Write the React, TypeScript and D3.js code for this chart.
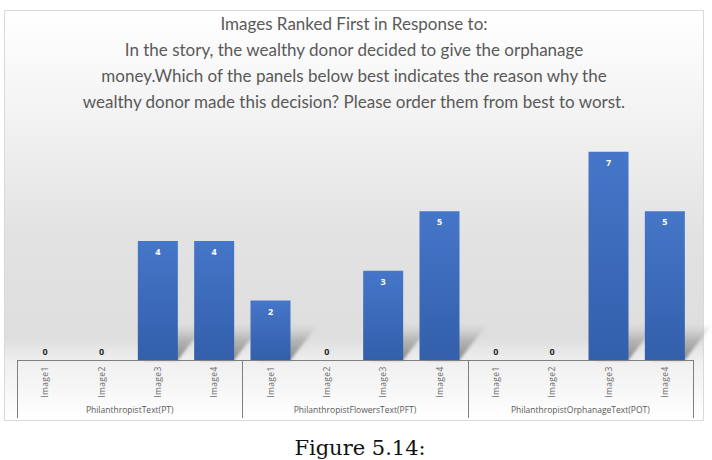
import React, { useEffect, useRef } from 'react'
import * as d3 from 'd3'

const titleLines = [
  'Images Ranked First in Response to:',
  'In the story, the wealthy donor decided to give the orphanage',
  'money.Which of the panels below best indicates the reason why the',
  'wealthy donor made this decision?  Please order them from best to worst.'
]
const groups = ['PhilanthropistText(PT)', 'PhilanthropistFlowersText(PFT)', 'PhilanthropistOrphanageText(POT)']
const images = ['Image1', 'Image2', 'Image3', 'Image4']
const ptValues = [0, 0, 4, 4]
const pftValues = [2, 0, 3, 5]
const potValues = [0, 0, 7, 5]
const caption = 'Figure 5.14:'

export default function App () {
  const ref = useRef(null)

  useEffect(() => {
    const width = 712
    const height = 460
    const margin = { left: 17, right: 19, top: 122, base: 360 }

    const rows = []
    const series = [ptValues, pftValues, potValues]
    groups.forEach((g, gi) => {
      images.forEach((img, i) => {
        rows.push({ key: g + '|' + img, group: g, image: img, value: series[gi][i] })
      })
    })

    const svg = d3.select(ref.current)
    svg.selectAll('*').remove()
    svg.attr('width', width).attr('height', height)

    const defs = svg.append('defs')
    const bg = defs.append('linearGradient').attr('id', 'bg').attr('x1', 0).attr('y1', 0).attr('x2', 0).attr('y2', 1)
    bg.append('stop').attr('offset', '0%').attr('stop-color', '#ffffff')
    bg.append('stop').attr('offset', '25%').attr('stop-color', '#f3f3f3')
    bg.append('stop').attr('offset', '55%').attr('stop-color', '#e2e2e2')
    bg.append('stop').attr('offset', '80%').attr('stop-color', '#dedede')
    bg.append('stop').attr('offset', '86%').attr('stop-color', '#f0f0f0')
    bg.append('stop').attr('offset', '100%').attr('stop-color', '#ffffff')

    const barGrad = defs.append('linearGradient').attr('id', 'bar').attr('x1', 0).attr('y1', 0).attr('x2', 0).attr('y2', 1)
    barGrad.append('stop').attr('offset', '0%').attr('stop-color', '#4676c9')
    barGrad.append('stop').attr('offset', '100%').attr('stop-color', '#335fab')

    const shade = defs.append('linearGradient').attr('id', 'shade').attr('x1', 0).attr('y1', 1).attr('x2', 0).attr('y2', 0)
    shade.append('stop').attr('offset', '0%').attr('stop-color', '#6e6e6e').attr('stop-opacity', 0.8)
    shade.append('stop').attr('offset', '55%').attr('stop-color', '#909090').attr('stop-opacity', 0.55)
    shade.append('stop').attr('offset', '100%').attr('stop-color', '#bdbdbd').attr('stop-opacity', 0.05)
    defs.append('filter').attr('id', 'blur').append('feGaussianBlur').attr('stdDeviation', 1.5)

    // chart box
    svg.append('rect')
      .attr('x', 4.5).attr('y', 10.5).attr('width', 699).attr('height', 410)
      .attr('fill', 'url(#bg)').attr('stroke', '#d9d9d9')

    svg.append('g')
      .selectAll('text')
      .data(titleLines)
      .enter()
      .append('text')
        .attr('x', 354)
        .attr('y', (d, i) => 30 + i * 26)
        .attr('text-anchor', 'middle')
        .attr('font-family', 'Lato, "Open Sans", sans-serif')
        .attr('font-size', 17)
        .attr('fill', '#595959')
        .text(d => d)

    const xScale = d3.scaleBand()
      .domain(rows.map(d => d.key))
      .range([margin.left, width - margin.right])
      .paddingInner(0.29)
      .paddingOuter(0.145)

    const yScale = d3.scaleLinear()
      .domain([0, 8])
      .range([margin.base, margin.top])

    // floor shadows
    svg.append('g')
      .attr('filter', 'url(#blur)')
      .selectAll('path')
      .data(rows.filter(d => d.value > 0))
      .enter()
      .append('path')
        .attr('d', d => {
          const x0 = xScale(d.key) + 6
          const x1 = xScale(d.key) + xScale.bandwidth()
          return `M${x0},${margin.base} L${x1},${margin.base} L${x1 + 28},${margin.base - 36} L${x0 + 28},${margin.base - 36} Z`
        })
        .attr('fill', 'url(#shade)')

    svg.append('g')
      .selectAll('rect')
      .data(rows)
      .enter()
      .append('rect')
        .attr('x', d => xScale(d.key))
        .attr('y', d => yScale(d.value))
        .attr('width', xScale.bandwidth())
        .attr('height', d => margin.base - yScale(d.value))
        .attr('fill', 'url(#bar)')

    svg.append('g')
      .selectAll('text')
      .data(rows)
      .enter()
      .append('text')
        .attr('x', d => xScale(d.key) + xScale.bandwidth() / 2)
        .attr('y', d => d.value > 0 ? yScale(d.value) + 14 : margin.base - 5)
        .attr('text-anchor', 'middle')
        .attr('font-family', '"Open Sans", sans-serif')
        .attr('font-weight', 'bold')
        .attr('font-size', 9)
        .attr('fill', d => d.value > 0 ? '#ffffff' : '#262626')
        .text(d => d.value)

    // axis
    const axis = svg.append('g').attr('stroke', '#7f7f7f').attr('stroke-width', 1)
    axis.append('line')
      .attr('x1', margin.left).attr('x2', width - margin.right)
      .attr('y1', margin.base + 0.5).attr('y2', margin.base + 0.5)
    const edges = groups.map(g => xScale(g + '|' + images[0]) - xScale.step() * 0.145)
    edges.push(width - margin.right)
    axis.selectAll('.sep')
      .data(edges)
      .enter()
      .append('line')
        .attr('x1', d => Math.round(d) + 0.5).attr('x2', d => Math.round(d) + 0.5)
        .attr('y1', margin.base).attr('y2', 418)

    svg.append('g')
      .selectAll('text')
      .data(rows)
      .enter()
      .append('text')
        .attr('transform', d => `translate(${xScale(d.key) + xScale.bandwidth() / 2 + 3}, 382) rotate(-90)`)
        .attr('text-anchor', 'middle')
        .attr('font-family', '"Open Sans", sans-serif')
        .attr('font-size', 8.5)
        .attr('letter-spacing', 0.4)
        .attr('fill', '#6a6a6a')
        .text(d => d.image)

    svg.append('g')
      .selectAll('text')
      .data(groups)
      .enter()
      .append('text')
        .attr('x', (d, i) => (edges[i] + edges[i + 1]) / 2)
        .attr('y', 413)
        .attr('text-anchor', 'middle')
        .attr('font-family', '"Open Sans", sans-serif')
        .attr('font-size', 8.5)
        .attr('fill', '#595959')
        .text(d => d)

    svg.append('text')
      .attr('x', 360)
      .attr('y', 455)
      .attr('text-anchor', 'middle')
      .attr('font-family', '"DejaVu Serif", serif')
      .attr('font-size', 21)
      .attr('fill', '#111')
      .text(caption)
  }, [])

  return (
    <div style={{ position: 'absolute', left: 0, top: 0 }}>
      <svg ref={ref} style={{ display: 'block', background: '#ffffff' }} />
    </div>
  )
}
